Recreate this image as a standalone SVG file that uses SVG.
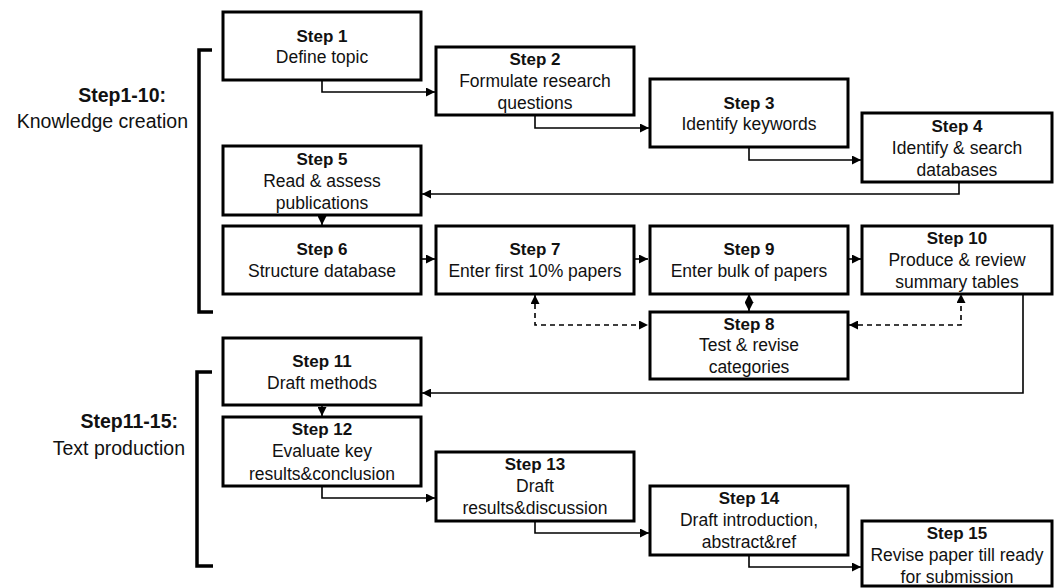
<svg xmlns="http://www.w3.org/2000/svg" width="1056" height="588" viewBox="0 0 1056 588">
<style>
.box{fill:#fff;stroke:#000;stroke-width:3}
.h{font-family:"Liberation Sans",Arial,sans-serif;font-weight:bold;font-size:17px;fill:#111;text-anchor:middle}
.t{font-family:"Liberation Sans",Arial,sans-serif;font-size:17.5px;fill:#111;text-anchor:middle}
.lh{font-family:"Liberation Sans",Arial,sans-serif;font-weight:bold;font-size:19.5px;fill:#111;text-anchor:end}
.lt{font-family:"Liberation Sans",Arial,sans-serif;font-size:19.5px;fill:#111;text-anchor:end}
.c{fill:none;stroke:#000;stroke-width:1.6}
.d{fill:none;stroke:#000;stroke-width:1.6;stroke-dasharray:5 4}
.br{fill:none;stroke:#000;stroke-width:3.5}
</style>
<defs>
<marker id="ah" viewBox="0 0 10 10" refX="10" refY="5" markerWidth="9" markerHeight="9" markerUnits="userSpaceOnUse" orient="auto-start-reverse"><path d="M0,0 L10,5 L0,10 z" fill="#000"/></marker>
</defs>

<g id="labels">
<path class="br" d="M212,50 H199 V312 H213"/>
<text class="lh" x="166" y="102">Step1-10:</text>
<text class="lt" x="188" y="128">Knowledge creation</text>
<path class="br" d="M212,372 H197 V566 H213"/>
<text class="lh" x="178" y="428">Step11-15:</text>
<text class="lt" x="185" y="455">Text production</text>
</g>

<g id="connectors">
<path class="c" d="M322,80 V92 H435" marker-end="url(#ah)"/>
<path class="c" d="M535,115 V128 H649" marker-end="url(#ah)"/>
<path class="c" d="M749,147 V160 H861" marker-end="url(#ah)"/>
<path class="c" d="M959,182 V194 H422" marker-end="url(#ah)"/>
<path class="c" d="M322,215 V225" marker-end="url(#ah)"/>
<path class="c" d="M421,259 H435" marker-end="url(#ah)"/>
<path class="c" d="M634,259 H648" marker-end="url(#ah)"/>
<path class="c" d="M848,259 H861" marker-end="url(#ah)"/>
<path class="c" d="M749,294 V311" marker-start="url(#ah)" marker-end="url(#ah)"/>
<path class="d" d="M535,295 V325 H648" marker-start="url(#ah)" marker-end="url(#ah)"/>
<path class="d" d="M849,325 H961 V294" marker-start="url(#ah)" marker-end="url(#ah)"/>
<path class="c" d="M1023,294 V393 H422" marker-end="url(#ah)"/>
<path class="c" d="M322,405 V416" marker-end="url(#ah)"/>
<path class="c" d="M322,486 V498 H435" marker-end="url(#ah)"/>
<path class="c" d="M535,521 V533 H649" marker-end="url(#ah)"/>
<path class="c" d="M749,555 V567 H861" marker-end="url(#ah)"/>
</g>

<g id="step1"><rect class="box" x="223" y="12" width="198" height="68"/>
<text class="h" x="322" y="42">Step 1</text><text class="t" x="322" y="63">Define topic</text></g>
<g id="step2"><rect class="box" x="436" y="47" width="198" height="68"/>
<text class="h" x="535" y="65">Step 2</text><text class="t" x="535" y="87">Formulate research</text><text class="t" x="535" y="109">questions</text></g>
<g id="step3"><rect class="box" x="650" y="79" width="198" height="68"/>
<text class="h" x="749" y="109">Step 3</text><text class="t" x="749" y="130">Identify keywords</text></g>
<g id="step4"><rect class="box" x="862" y="113" width="190" height="69"/>
<text class="h" x="957" y="132">Step 4</text><text class="t" x="957" y="154">Identify &amp; search</text><text class="t" x="957" y="176">databases</text></g>
<g id="step5"><rect class="box" x="223" y="146" width="198" height="69"/>
<text class="h" x="322" y="165">Step 5</text><text class="t" x="322" y="187">Read &amp; assess</text><text class="t" x="322" y="209">publications</text></g>
<g id="step6"><rect class="box" x="223" y="226" width="198" height="68"/>
<text class="h" x="322" y="255">Step 6</text><text class="t" x="322" y="277">Structure database</text></g>
<g id="step7"><rect class="box" x="436" y="226" width="198" height="68"/>
<text class="h" x="535" y="255">Step 7</text><text class="t" x="535" y="277">Enter first 10% papers</text></g>
<g id="step9"><rect class="box" x="650" y="226" width="198" height="68"/>
<text class="h" x="749" y="255">Step 9</text><text class="t" x="749" y="277">Enter bulk of papers</text></g>
<g id="step10"><rect class="box" x="862" y="226" width="190" height="68"/>
<text class="h" x="957" y="244">Step 10</text><text class="t" x="957" y="266">Produce &amp; review</text><text class="t" x="957" y="288">summary tables</text></g>
<g id="step8"><rect class="box" x="650" y="312" width="198" height="67"/>
<text class="h" x="749" y="330">Step 8</text><text class="t" x="749" y="351">Test &amp; revise</text><text class="t" x="749" y="373">categories</text></g>
<g id="step11"><rect class="box" x="223" y="338" width="198" height="67"/>
<text class="h" x="322" y="367">Step 11</text><text class="t" x="322" y="389">Draft methods</text></g>
<g id="step12"><rect class="box" x="223" y="417" width="198" height="69"/>
<text class="h" x="322" y="435">Step 12</text><text class="t" x="322" y="457">Evaluate key</text><text class="t" x="322" y="480">results&amp;conclusion</text></g>
<g id="step13"><rect class="box" x="436" y="452" width="198" height="69"/>
<text class="h" x="535" y="470">Step 13</text><text class="t" x="535" y="492">Draft</text><text class="t" x="535" y="514">results&amp;discussion</text></g>
<g id="step14"><rect class="box" x="650" y="486" width="198" height="69"/>
<text class="h" x="749" y="504">Step 14</text><text class="t" x="749" y="526">Draft introduction,</text><text class="t" x="749" y="548">abstract&amp;ref</text></g>
<g id="step15"><rect class="box" x="862" y="521" width="190" height="65"/>
<text class="h" x="957" y="539">Step 15</text><text class="t" x="957" y="561">Revise paper till ready</text><text class="t" x="957" y="583">for submission</text></g>
</svg>
